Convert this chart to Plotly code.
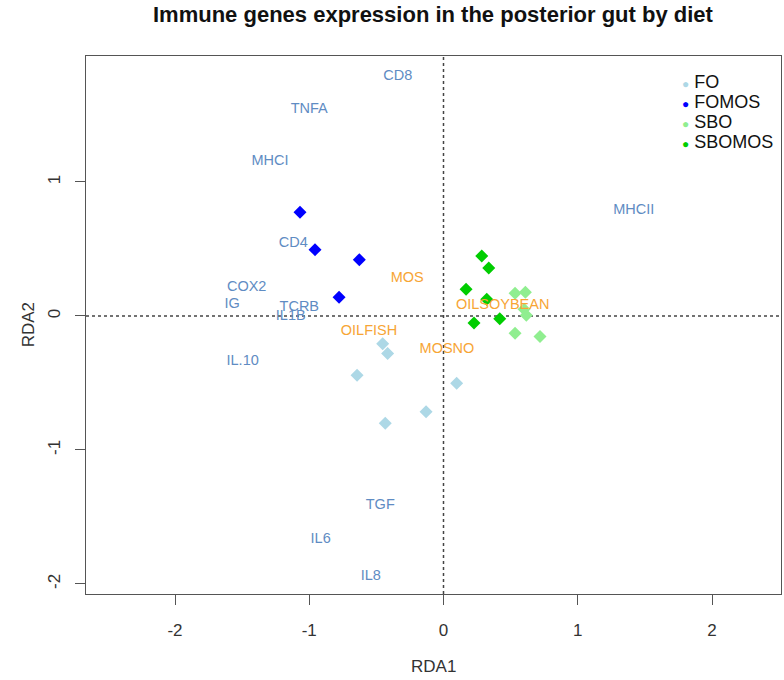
import plotly.graph_objects as go

# ---- data ----
diets = ["FO", "FOMOS", "SBO", "SBOMOS"]
diet_colors = ["#ADD8E6", "#0000FF", "#90EE90", "#00CD00"]

fo_x = [-0.453, -0.416, -0.644, 0.098, -0.130, -0.434]
fo_y = [-0.207, -0.281, -0.443, -0.502, -0.714, -0.801]
fomos_x = [-1.069, -0.957, -0.627, -0.778]
fomos_y = [0.774, 0.495, 0.420, 0.140]
sbo_x = [0.533, 0.610, 0.600, 0.617, 0.533, 0.719]
sbo_y = [0.169, 0.177, 0.050, 0.005, -0.129, -0.154]
sbomos_x = [0.285, 0.337, 0.168, 0.322, 0.227, 0.419]
sbomos_y = [0.448, 0.358, 0.199, 0.125, -0.052, -0.020]

genes = ["CD8", "TNFA", "MHCI", "CD4", "COX2", "IG", "TCRB", "IL1B",
         "IL.10", "TGF", "IL6", "IL8", "MHCII"]
gene_x = [-0.341, -1.000, -1.292, -1.119, -1.466, -1.575, -1.074, -1.138,
          -1.496, -0.471, -0.915, -0.542, 1.417]
gene_y = [1.790, 1.543, 1.151, 0.540, 0.216, 0.087, 0.062, 0.000,
          -0.341, -1.410, -1.664, -1.945, 0.791]

env = ["MOS", "OILFISH", "MOSNO", "OILSOYBEAN"]
env_x = [-0.270, -0.555, 0.026, 0.441]
env_y = [0.279, -0.117, -0.249, 0.082]

x_ticks = [-2, -1, 0, 1, 2]
y_ticks = [-2, -1, 0, 1]

title_text = "Immune genes expression in the posterior gut by diet"
x_title = "RDA1"
y_title = "RDA2"

FONT = "Liberation Sans, Arial, sans-serif"

fig = go.Figure()

series = [(fo_x, fo_y), (fomos_x, fomos_y), (sbo_x, sbo_y), (sbomos_x, sbomos_y)]
for name, col, (xs, ys) in zip(diets, diet_colors, series):
    fig.add_trace(go.Scatter(x=xs, y=ys, mode="markers", name=name,
                             marker=dict(symbol="diamond", size=10, color=col),
                             showlegend=False, hoverinfo="x+y+name"))

fig.add_trace(go.Scatter(x=gene_x, y=gene_y, mode="text", text=genes,
                         textposition="middle center", showlegend=False,
                         textfont=dict(family=FONT, size=14.5, color="#5F8CC3")))
fig.add_trace(go.Scatter(x=env_x, y=env_y, mode="text", text=env,
                         textposition="middle center", showlegend=False,
                         textfont=dict(family=FONT, size=14.5, color="#F7A535")))

# dotted reference lines
fig.add_shape(type="line", xref="paper", x0=0, x1=1, yref="y", y0=0, y1=0,
              line=dict(color="#444444", width=1.5, dash="dot"), layer="below")
fig.add_shape(type="line", yref="paper", y0=0, y1=1, xref="x", x0=0, x1=0,
              line=dict(color="#444444", width=1.5, dash="dot"), layer="below")

axis_common = dict(showgrid=False, zeroline=False, showline=True, mirror=True,
                   linecolor="#555555", linewidth=1.2, ticks="outside",
                   ticklen=10, tickwidth=1.2, tickcolor="#555555",
                   tickfont=dict(family=FONT, size=17, color="#333333"))

fig.update_xaxes(range=[-2.663, 2.514], tickvals=x_ticks,
                 ticktext=[str(v) for v in x_ticks], ticklabelstandoff=10,
                 **axis_common)
fig.update_yaxes(range=[-2.075, 1.94], tickvals=y_ticks,
                 ticktext=[str(v) for v in y_ticks], tickangle=-90,
                 ticklabelstandoff=8, **axis_common)

fig.add_annotation(text=f"<b>{title_text}</b>", xref="paper", yref="paper",
                   x=0.5, y=1.078, xanchor="center", yanchor="middle",
                   showarrow=False, font=dict(family=FONT, size=22, color="#111111"))
fig.add_annotation(text=x_title, xref="paper", yref="paper",
                   x=0.5, y=-0.135, xanchor="center", yanchor="middle",
                   showarrow=False, font=dict(family=FONT, size=17, color="#333333"))
fig.add_annotation(text=y_title, xref="paper", yref="paper",
                   x=-0.083, y=0.5, xanchor="center", yanchor="middle",
                   textangle=-90, showarrow=False,
                   font=dict(family=FONT, size=17, color="#333333"))

# legend (R-style, tight spacing) drawn as annotations
leg_x, leg_y0, leg_step = 0.855, 0.952, 0.0372
for i, (name, col) in enumerate(zip(diets, diet_colors)):
    fig.add_annotation(
        text=f"<span style='color:{col};font-size:12px'>●</span> {name}",
        xref="paper", yref="paper", x=leg_x, y=leg_y0 - i * leg_step,
        xanchor="left", yanchor="middle", showarrow=False,
        font=dict(family=FONT, size=18, color="#111111"))

fig.update_layout(
    width=784, height=680,
    margin=dict(l=86, r=3, t=56, b=86),
    paper_bgcolor="white", plot_bgcolor="white",
    font=dict(family=FONT),
    showlegend=False,
)

fig.write_html("out.html",
               config={"displayModeBar": False},
               post_script="document.body.style.margin='0';"
                           "document.body.style.overflow='hidden';")
